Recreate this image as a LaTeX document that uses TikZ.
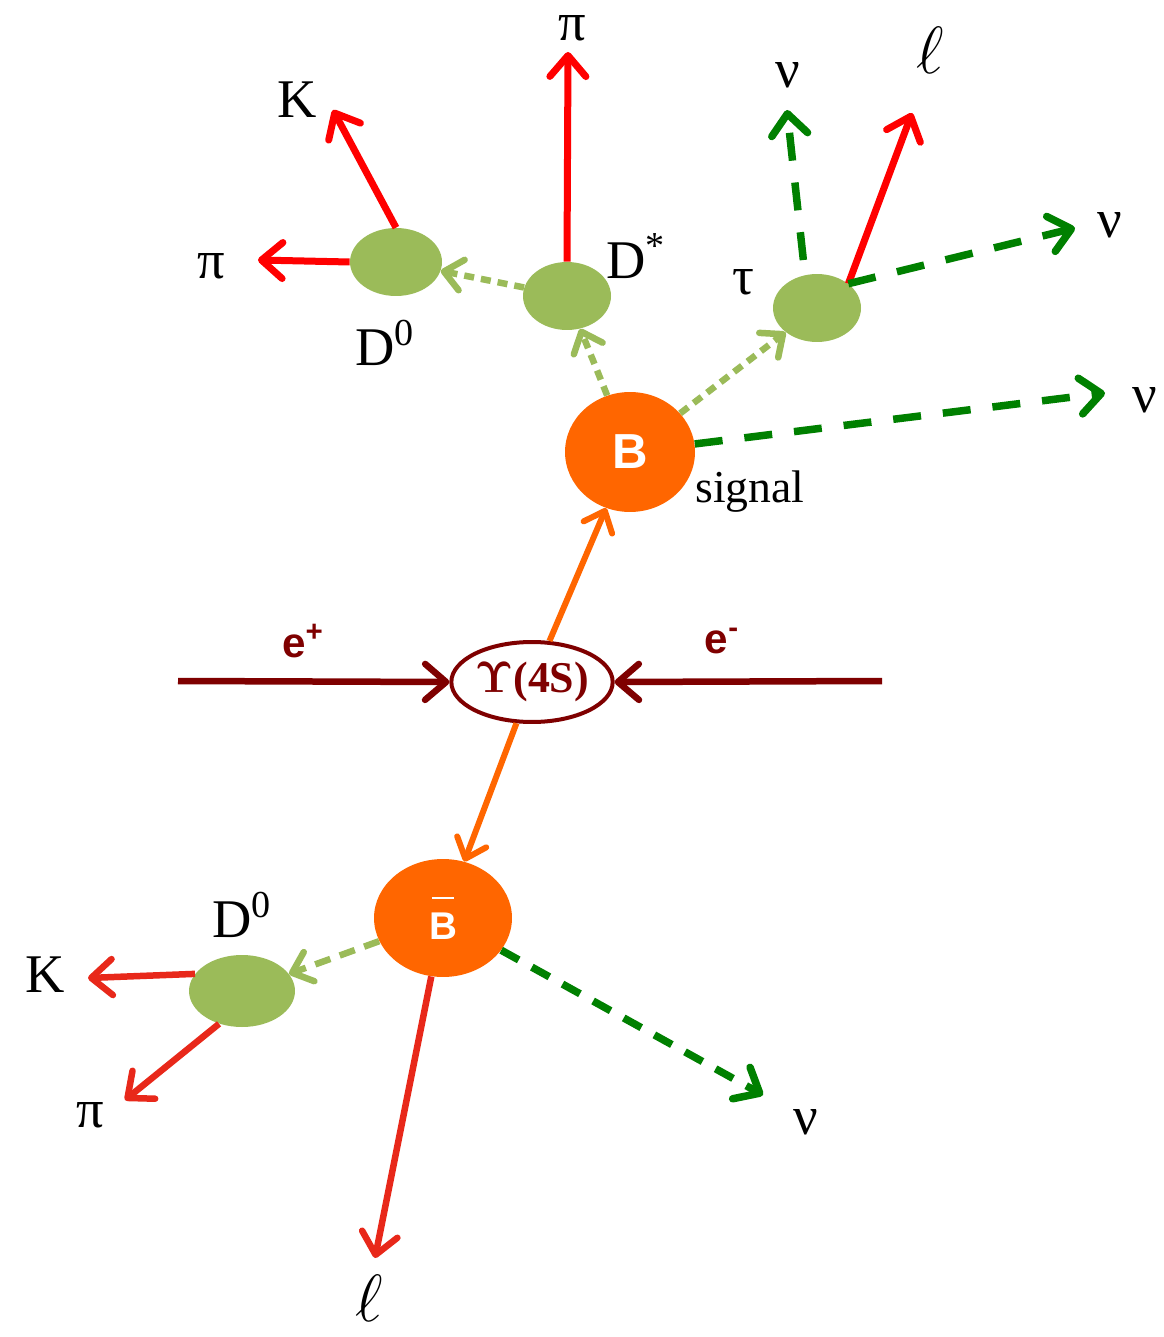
\documentclass[tikz,border=0pt]{standalone}
\usepackage{fix-cm}
\usepackage[no-math]{fontspec}
\setmainfont{Liberation Serif}
\setsansfont{Liberation Sans}
\usetikzlibrary{arrows.meta,shapes.geometric}
\definecolor{dred}{HTML}{7F0000}
\definecolor{borange}{HTML}{FF6600}
\definecolor{lgreen}{HTML}{9BBB59}
\definecolor{dgreen}{HTML}{008000}
\definecolor{pred}{HTML}{FF0000}
\definecolor{ored}{HTML}{E8281A}
\newcommand{\barB}{{\setbox0\hbox{B}\rlap{\raisebox{1.5\ht0}{\makebox[\wd0]{\rule{0.8\wd0}{0.05cm}}}}B}}
\begin{document}
\begin{tikzpicture}[x=0.02cm,y=-0.02cm,
  lbl/.style={font=\fontsize{31}{34}\selectfont, inner sep=0pt, text=black},
  elllbl/.style={font=\fontsize{38}{40}\selectfont, inner sep=0pt, text=black},
  bigtip/.style={-{Straight Barb[length=0.42cm,width=0.72cm,round]}},
  smalltip/.style={-{Straight Barb[length=0.36cm,width=0.62cm,round]}},
  redarrow/.style={draw=pred, line width=0.14cm, bigtip},
  oredarrow/.style={draw=ored, line width=0.13cm, bigtip},
  dredarrow/.style={draw=dred, line width=0.13cm, bigtip},
  orangearrow/.style={draw=borange, line width=0.12cm, smalltip},
  dgdash/.style={draw=dgreen, line width=0.15cm, dash pattern=on 0.56cm off 0.44cm, bigtip},
  dgdashshort/.style={draw=dgreen, line width=0.15cm, dash pattern=on 0.4cm off 0.3cm, bigtip},
  lgdot/.style={draw=lgreen, line width=0.13cm, dash pattern=on 0.2cm off 0.14cm, smalltip},
  lgdash/.style={draw=lgreen, line width=0.13cm, dash pattern=on 0.32cm off 0.2cm, smalltip},
  meson/.style={ellipse, fill=lgreen, inner sep=0pt, minimum width=1.76cm, minimum height=1.36cm},
  bmeson/.style={ellipse, fill=borange, inner sep=0pt, text=white},
]
\path[fill=white, use as bounding box] (0,0) rectangle (1163,1337);

% central resonance
\node[ellipse, draw=dred, line width=0.08cm, fill=white, inner sep=0pt,
      minimum width=3cm, minimum height=1.6cm, text=dred,
      font=\fontsize{25}{28}\selectfont\bfseries] (U) at (532,682) {$\mathbf{\Upsilon}$(4S)};

% B mesons
\node[bmeson, minimum width=2.6cm, minimum height=2.4cm, font=\fontsize{28}{30}\selectfont\sffamily\bfseries] (B) at (630,452) {B};
\node[bmeson, minimum width=2.76cm, minimum height=2.36cm, font=\fontsize{22}{24}\selectfont\sffamily\bfseries] (Bb) at (443,918) {\barB};

% green intermediate particles
\node[meson] (Ds) at (567,296) {};
\node[meson, minimum width=1.84cm] (D0t) at (396,262) {};
\node[meson] (tau) at (817,308) {};
\node[meson, minimum width=2.12cm, minimum height=1.44cm] (D0b) at (242,991) {};

% free ends
\coordinate (ep) at (178,681);
\coordinate (em) at (882,681);
\coordinate (nuB) at (1105,393);
\coordinate (piDs) at (568,52);
\coordinate (Kt) at (333,110);
\coordinate (pit) at (258,260);
\coordinate (nuup) at (787,110);
\coordinate (ellt) at (912,113);
\coordinate (nur) at (1075,228);
\coordinate (nub) at (763,1095);
\coordinate (ellb) at (375,1258);
\coordinate (Kb) at (88,978);
\coordinate (pib) at (125,1100);

% beams
\draw[dredarrow] (ep) -- (U.west);
\draw[dredarrow] (em) -- (U.east);
\node[text=dred, font=\fontsize{24}{26}\selectfont\sffamily\bfseries] (eplus) at (303,641) {e\textsuperscript{+}};
\node[text=dred, font=\fontsize{24}{26}\selectfont\sffamily\bfseries] (eminus) at (722,641) {e\textsuperscript{-}};

% Upsilon decays
\draw[orangearrow] (U) -- (B);
\draw[orangearrow] (U) -- (Bb);

% signal side
\draw[lgdot] (B) -- (Ds);
\draw[lgdot] (B) -- (tau);
\draw[lgdot] (Ds) -- (D0t);
\draw[dgdash] (B) -- (nuB);
\draw[redarrow] (Ds.north) -- (piDs);
\draw[redarrow] (D0t.north) -- (Kt);
\draw[redarrow] (D0t.west) -- (pit);
\draw[dgdash, shorten <=0.3cm] (tau.110) -- (nuup);
\draw[redarrow] (tau.north east) -- (ellt);
\draw[dgdash] (tau.north east) -- (nur);

% tag side
\draw[lgdash] (Bb) -- (D0b);
\draw[dgdashshort] (Bb) -- (nub);
\draw[oredarrow] (Bb) -- (ellb);
\draw[oredarrow] (D0b.160) -- (Kb);
\draw[oredarrow] (D0b.235) -- (pib);

% labels
\node[lbl] (lpiDs) at (572,28) {π};
\node[lbl] (lKt) at (297,100) {K};
\node[lbl] (lpit) at (211,266) {π};
\node[lbl, anchor=west] (lDs) at (606,256) {D\textsuperscript{*}};
\node[lbl] (ltau) at (743,282) {τ};
\node[lbl] (lD0t) at (385,343) {D\textsuperscript{0}};
\node[lbl] (lnuup) at (788,75) {ν};
\node[elllbl] (lellt) at (930,50) {$\ell$};
\node[lbl] (lnur) at (1110,225) {ν};
\node[lbl] (lnuB) at (1145,400) {ν};
\node[lbl, font=\fontsize{26}{28}\selectfont] (lsig) at (750,492) {signal};
\node[lbl] (lD0b) at (242,915) {D\textsuperscript{0}};
\node[lbl] (lKb) at (45,975) {K};
\node[lbl] (lpib) at (90,1115) {π};
\node[lbl] (lnub) at (806,1122) {ν};
\node[elllbl] (lellb) at (369,1298) {$\ell$};
\end{tikzpicture}
\end{document}
